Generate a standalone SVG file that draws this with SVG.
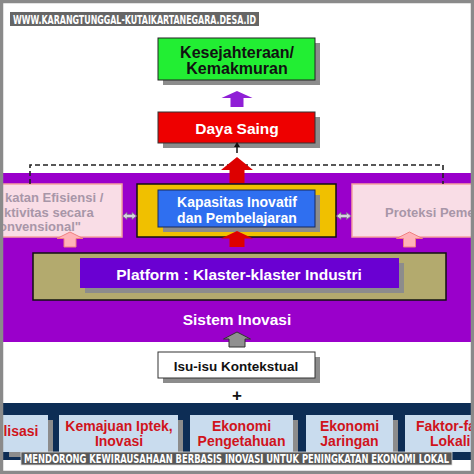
<svg xmlns="http://www.w3.org/2000/svg" width="474" height="474" viewBox="0 0 474 474">
<defs>
<style>
.t{font-family:"Liberation Sans",Arial,sans-serif;font-weight:bold;text-anchor:middle}
.w{fill:#fff}
.k{fill:#111}
.red{fill:#d0141c;font-size:14px}
.pk{fill:#a896a8;font-size:13px;font-family:"Liberation Sans",Arial,sans-serif;font-weight:bold}
.sh{fill:#8c8c8c}
.cond{font-family:"Liberation Sans Narrow","DejaVu Sans Condensed",sans-serif;font-weight:bold;fill:#fff}
.lb{fill:#c9dcee}
.rl{font-family:"Liberation Sans",Arial,sans-serif;font-weight:bold}
</style>
</defs>
<rect x="0" y="0" width="474" height="474" fill="#fff"/>
<!-- watermark -->
<rect x="10" y="12" width="249" height="14" fill="#666"/>
<text class="cond" x="13" y="24" font-size="12.5" textLength="243" lengthAdjust="spacingAndGlyphs">WWW.KARANGTUNGGAL-KUTAIKARTANEGARA.DESA.ID</text>

<!-- purple background -->
<rect id="sistem-bg" x="3" y="173" width="468" height="169" fill="#9a00cb"/>

<g id="kesejahteraan">
<rect class="sh" x="163" y="43" width="157" height="42"/>
<rect x="158" y="38" width="157" height="42" fill="#22ee33" stroke="#222" stroke-width="1"/>
<text class="t k" x="237" y="57.5" font-size="16">Kesejahteraan/</text>
<text class="t k" x="237" y="74" font-size="16">Kemakmuran</text>
</g>

<g id="daya-saing">
<rect class="sh" x="163" y="117" width="157" height="31"/>
<rect x="158" y="112" width="157" height="31" fill="#ee0000" stroke="#333" stroke-width="1"/>
<text class="t w" x="237" y="133.5" font-size="15.5">Daya Saing</text>
</g>

<g id="efisiensi">
<rect x="-2" y="184" width="124" height="53" fill="#f9dde6" stroke="#f4a0a0" stroke-width="1.5"/>
<text class="pk" x="5" y="202">katan Efisiensi /</text>
<text class="pk" x="4" y="216.5">ktivitas secara</text>
<text class="pk" x="-1" y="231">onvensional"</text>
</g>

<g id="proteksi">
<rect x="352" y="184" width="126" height="53" fill="#f9dde6" stroke="#f4a0a0" stroke-width="1.5"/>
<text class="pk" x="385" y="217">Proteksi Pemer</text>
</g>

<g id="kapasitas">
<rect x="137" y="184" width="199" height="53" fill="#f0c000" stroke="#111" stroke-width="1.5"/>
<rect class="sh" x="163" y="195" width="157" height="37"/>
<rect x="158" y="190" width="157" height="37" fill="#2f6ff0" stroke="#1a2a5a" stroke-width="1"/>
<text class="t w" x="237" y="206.5" font-size="14">Kapasitas Inovatif</text>
<text class="t w" x="237" y="222.5" font-size="14">dan Pembelajaran</text>
</g>

<g id="platform">
<rect x="33" y="253" width="413" height="47" fill="#b3aa6e" stroke="#111" stroke-width="1.5"/>
<rect class="sh" x="85" y="263" width="319" height="30"/>
<rect x="80" y="258" width="319" height="30" fill="#6a00d2"/>
<text class="t w" x="239" y="279.5" font-size="15.5">Platform : Klaster-klaster Industri</text>
</g>

<g id="sistem-inovasi">
<text class="t w" x="237" y="325" font-size="15.5">Sistem Inovasi</text>
</g>

<g id="isu">
<rect class="sh" x="163" y="357" width="157" height="26"/>
<rect x="158" y="352" width="157" height="26" fill="#fff" stroke="#333" stroke-width="1"/>
<text class="t k" x="236" y="370.5" font-size="13.5">Isu-isu Kontekstual</text>
</g>

<g id="plus">
<text class="t k" x="237" y="401" font-size="17">+</text>
</g>

<g id="connectors">
<path d="M237 91 L252.5 98 L243.5 98 L243.5 107 L230.5 107 L230.5 98 L221.5 98 Z" fill="#8f1fd6"/>
<line x1="237" y1="145" x2="237" y2="153" stroke="#111" stroke-width="1.5"/>
<path d="M237 142 L240 147 L234 147 Z" fill="#111"/>
<path d="M30 184 V165 H443 V184" fill="none" stroke="#222" stroke-width="1.6" stroke-dasharray="5,3"/>
<path d="M237 157 L253 170 L244.5 170 L244.5 183 L229.5 183 L229.5 170 L221 170 Z" fill="#dd0000"/>
<path d="M237 231 L253 238.5 L244.5 238.5 L244.5 247 L229.5 247 L229.5 238.5 L221 238.5 Z" fill="#dd0000"/>
<path d="M70 232 L83 238.5 L76 238.5 L76 247 L64 247 L64 238.5 L57 238.5 Z" fill="#ffb3b8" stroke="#f08080" stroke-width="1"/>
<path d="M409.5 232 L422.5 238.5 L415.5 238.5 L415.5 247 L403.5 247 L403.5 238.5 L396.5 238.5 Z" fill="#ffb3b8" stroke="#f08080" stroke-width="1"/>
<path d="M122.5 216 L127 212.5 L127 214.5 L132 214.5 L132 212.5 L136.5 216 L132 219.5 L132 217.5 L127 217.5 L127 219.5 Z" fill="#d8d0e0" stroke="#7a7a8a" stroke-width="0.8"/>
<path d="M336.5 216 L341 212.5 L341 214.5 L346.5 214.5 L346.5 212.5 L351 216 L346.5 219.5 L346.5 217.5 L341 217.5 L341 219.5 Z" fill="#d8d0e0" stroke="#7a7a8a" stroke-width="0.8"/>
<path d="M237 332 L250.5 339 L245 339 L245 347 L229 347 L229 339 L223.5 339 Z" fill="#909090" stroke="#333" stroke-width="1"/>
</g>

<!-- bottom navy band -->
<rect x="3" y="403" width="468" height="57" fill="#0d2d55"/>

<g id="globalisasi">
<rect class="sh" x="9" y="420" width="44" height="37"/>
<rect class="lb" x="3" y="415" width="45" height="37"/>
<text class="t red" x="21" y="436">lisasi</text>
</g>
<g id="iptek">
<rect class="sh" x="64" y="420" width="119" height="37"/>
<rect class="lb" x="59" y="415" width="119" height="37"/>
<text class="t red" x="119" y="431">Kemajuan Iptek,</text>
<text class="t red" x="119" y="446">Inovasi</text>
</g>
<g id="ekonomi-pengetahuan">
<rect class="sh" x="195" y="420" width="103" height="37"/>
<rect class="lb" x="190" y="415" width="103" height="37"/>
<text class="t red" x="241.5" y="431">Ekonomi</text>
<text class="t red" x="241.5" y="446">Pengetahuan</text>
</g>
<g id="ekonomi-jaringan">
<rect class="sh" x="311" y="420" width="87" height="37"/>
<rect class="lb" x="306" y="415" width="87" height="37"/>
<text class="t red" x="349.5" y="431">Ekonomi</text>
<text class="t red" x="349.5" y="446">Jaringan</text>
</g>
<g id="faktor">
<rect class="lb" x="405" y="415" width="72" height="37"/>
<text class="red rl" x="416" y="431">Faktor-fa</text>
<text class="red rl" x="430" y="446">Lokali</text>
</g>

<!-- caption -->
<rect x="21" y="452" width="431" height="13" fill="#585858" stroke="#ddd" stroke-width="0.8"/>
<text class="cond" x="24" y="463" font-size="12" textLength="425" lengthAdjust="spacingAndGlyphs">MENDORONG KEWIRAUSAHAAN BERBASIS INOVASI UNTUK PENINGKATAN EKONOMI LOKAL</text>

<!-- frame -->
<rect x="1.5" y="1.5" width="471" height="471" fill="none" stroke="#8a8a8a" stroke-width="3.5"/>
</svg>
